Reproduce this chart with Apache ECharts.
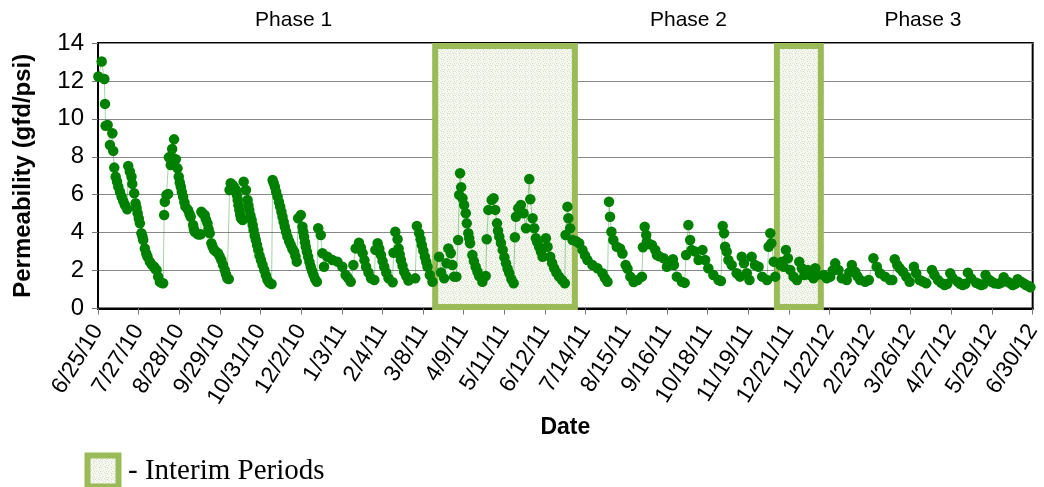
<!DOCTYPE html>
<html>
<head>
<meta charset="utf-8">
<style>
  html, body { margin: 0; padding: 0; background: #fff; }
  #chart { width: 1044px; height: 487px; }
</style>
<script src="https://cdn.jsdelivr.net/npm/echarts@6/dist/echarts.min.js"></script>
</head>
<body>
<div id="chart"></div>
<script>
// Days are counted from 6/25/10.
const dateTicks = ['6/25/10','7/27/10','8/28/10','9/29/10','10/31/10','12/2/10','1/3/11','2/4/11',
  '3/8/11','4/9/11','5/11/11','6/12/11','7/14/11','8/15/11','9/16/11','10/18/11','11/19/11',
  '12/21/11','1/22/12','2/23/12','3/26/12','4/27/12','5/29/12','6/30/12'];
const tickStepDays = 32;

// Permeability samples: [day, gfd/psi]
const phase1 = [
  [0.3,12.23],[2.9,13.02],[5,12.1],[5.5,10.79],[6,9.63],[7.6,9.68],[9.4,8.62],[11.3,9.24],[12,8.31],
  [12.8,7.43],[13.9,6.95],[15,6.7],[16,6.42],[17.3,6.15],[18.6,5.9],[20,5.65],[21.2,5.46],[23,5.23],
  [23.8,7.52],[25.1,7.22],[26.4,6.95],[27,6.57],[28.5,6.08],[29.6,5.55],[30.4,5.3],[31.2,5.02],[32.1,4.75],
  [33,4.49],[34.2,3.97],[35,3.8],[35.6,3.61],[36.9,3.17],[38,2.9],[39,2.73],[40.8,2.47],[42.5,2.3],[44.2,2.2],
  [45,2.1],[46.1,2.03],[47.4,1.68],[48.7,1.41],[50,1.35],[51.3,1.33],
  [52.1,4.93],[52.6,5.63],[53.9,5.99],[55.2,6.04],[55.8,7.97],[57.3,7.57],[58.4,8.41],[59.1,7.92],[59.9,8.92],
  [61.3,7.87],[62.6,7.39],[63.6,6.95],[64.4,6.65],[65.2,6.42],[66,6.15],[67,5.9],[68,5.6],[68.9,5.37],
  [70.9,5.2],[72,5.0],[73,4.84],[74.9,4.4],[75.5,4.2],[76.2,4.05],[78.3,3.93],[79.5,3.9],[80.9,3.91],
  [81.4,5.1],[82.7,5.0],[84,4.93],[85,4.7],[86.2,4.49],[87,4.2],[88,3.97],[89.3,3.44],[90.3,3.25],[91.4,3.09],
  [93,3.0],[94.5,2.91],[95.8,2.75],[97.1,2.56],[98.5,2.3],[99.8,2.03],[100.8,1.8],[101.8,1.59],[103,1.55],
  [103.6,6.25],[104.5,6.6],[106,6.51],[107.3,6.4],[108.6,6.25],[109.3,6.0],[110,5.72],[110.6,5.45],
  [111.3,5.2],[112,4.95],[112.6,4.76],[113.9,4.67],
  [114.7,6.69],[116.5,6.25],[117.8,5.72],[118.4,5.45],[119.1,5.2],[120,4.9],[121,4.67],[121.8,4.4],
  [122.5,4.14],[123.4,3.85],[124.3,3.61],[125.2,3.35],[126.2,3.09],[127.2,2.8],[128.3,2.56],[129.6,2.3],
  [130.9,2.03],[132.2,1.75],[133.5,1.5],[135,1.35],[136.7,1.29],
  [137.5,6.78],[138.4,6.6],[139.3,6.42],[140.3,6.15],[141.4,5.9],[142.5,5.62],[143.5,5.37],[144.4,5.1],
  [145.3,4.84],[146.2,4.57],[147.1,4.31],[148.1,4.05],[149.2,3.79],[150.5,3.55],[151.8,3.35],[153,3.15],
  [154.5,3.0],[155.5,2.75],[156.5,2.47],
  [157.6,4.76],[159.7,4.93],[161,4.31],[161.6,4.05],[162.3,3.79],[163,3.5],[163.6,3.26],[164.5,3.0],
  [165.5,2.73],[166.5,2.45],[167.5,2.2],[168.6,1.98],[169.7,1.77],[171,1.55],[172.3,1.41],
  [173.4,4.23],[175.4,3.88],[176.7,2.91],[178,2.2],[180.7,2.73],[184.6,2.56],[188.5,2.47],[192.4,2.2],
  [195,1.77],[197,1.6],[199,1.41],
  [201.1,2.29],[202.9,3.17],[205.5,3.47],[207,3.2],[208.4,2.91],[209.8,2.55],[211.1,2.2],[213,1.9],[215,1.59],[217.6,1.5],
  [218.4,3.09],[220.2,3.44],[221.5,3.15],[222.8,2.82],[224.1,2.5],[225.4,2.2],[227,1.9],[228.8,1.59],[232,1.38],
  [232.7,2.94],[234.1,4.05],[235.9,3.65],[236.7,3.17],[237.6,2.85],[238.5,2.56],[239.8,2.25],[241.1,1.94],
  [242.8,1.7],[244.5,1.47],[249.8,1.59],
  [251.1,4.35],[252.9,3.97],[254,3.65],[255,3.35],[256.2,3.05],[257.4,2.73],[258.5,2.45],[259.5,2.2],
  [261.3,1.77],[263.4,1.41]
];
const interim1 = [
  [268.6,2.73],[270.2,1.9],[272.6,1.59],[274.4,2.38],[275.9,3.17],[277.8,2.91],[279.1,2.29],[280.4,1.68],
  [282.2,1.68],[283.6,3.61],[284.4,5.99],[285.1,7.13],[286,6.4],[287,5.81],[288.3,5.46],[289.6,5.02],[290.4,4.49],
  [291.6,3.97],[292.3,3.7],[293,3.44],[294.8,2.82],[296,2.5],[297.4,2.2],[298.8,1.95],[300.1,1.71],[302.7,1.41],[305.3,1.71],
  [306.1,3.65],[307.4,5.2],[310,5.72],[311.5,5.81],[312.8,5.2],[314.2,4.49],[315,4.1],[316,3.79],[317.3,3.45],
  [318.7,3.09],[320,2.7],[321.3,2.38],[322.6,2.1],[323.9,1.86],[325.5,1.55],[327.3,1.33],
  [328.3,3.76],[329.1,4.84],[330.9,5.28],[333,5.46],[335.1,5.02],[337,4.23],[339.6,6.83],[340.4,5.76],
  [342.2,4.76],[343.5,4.23],[344.8,3.7],[345.9,3.5],[347.4,3.26],[348.8,3.0],[350.1,2.73],[352.7,3.7],[354,3.26],
  [356.1,2.73],[357.6,2.4],[359.2,2.12],[361,1.9],[363.1,1.68],[365.4,1.5],[367.6,1.33],
  [368.2,3.88],[369.7,5.37],[370.4,4.76],[371.8,4.23],[373.7,3.61]
];
const phase2 = [
  [376.5,3.55],[378.9,3.44],[381.5,3.09],[383.5,2.8],[385.4,2.56],[389.3,2.29],[393.3,2.12],[397.2,1.86],[399.2,1.6],[401.2,1.41],
  [402.4,5.63],[403.2,4.84],[404.3,4.05],[405.8,3.61],[408.5,3.26],[411.1,3.17],[413,2.9],[415.5,2.29],
  [417,2.1],[419.2,1.68],[421.8,1.4],[425,1.5],[428.3,1.68],
  [429.1,3.23],[430.5,4.31],[431.7,3.88],[432.2,3.52],[434,3.4],[436.2,3.35],[438.8,3.09],[440.1,2.82],
  [442,2.75],[445.4,2.65],[448,2.2],[450,2.4],[452.7,2.6],[453.5,2.29],[455.8,1.68],[459.8,1.41],[462,1.35],
  [463.1,2.82],[464.9,4.4],[466.3,3.61],[467.5,3.09],[470.2,3.0],[472.9,2.56],[476,3.09],[478.1,2.56],
  [480.6,2.12],[484.6,1.77],[488.6,1.5],[490.5,1.45],
  [491.9,4.35],[493,3.97],[493.8,3.26],[495.1,3.0],[496.4,2.56],[499,2.29],[502.9,1.86],[505.6,1.68],
  [506.9,2.73],[508.7,2.38],[510.9,1.86],[513,1.5],[514.7,2.73],[517.4,2.29],[520.2,2.2],[523,1.68],
  [526.8,1.5],[528.1,3.26],[529.4,3.97],[530.2,3.44],[532.1,2.47],[533.3,1.68]
];
const interim2 = [
  [537.3,2.29],[538.6,2.47],[539.9,2.2],[541.7,3.09],[543.3,2.65],[545.1,2.03],[547.7,1.68],[550.4,1.5],
  [552.2,2.47],[554.3,2.12],[556.3,1.77],[559,2.03],[560.8,1.77],[563.4,1.59],[564.8,2.12],[566.1,1.77]
];
const phase3 = [
  [571.3,1.77],[573.9,1.59],[576.6,1.68],[578.5,2.0],[580.5,2.38],[583.1,2.03],[585.7,1.59],[589.6,1.5],
  [591.6,1.9],[593.6,2.29],[596.2,1.94],[598,1.7],[600.1,1.5],[604.1,1.41],[607,1.5],[610.6,2.65],[613.3,2.2],
  [615.8,1.86],[619.8,1.68],[623.7,1.5],[625.5,1.5],
  [627.4,2.6],[629.4,2.29],[631.3,2.12],[633.9,1.94],[636.5,1.68],[639.1,1.41],[642.5,2.2],[644.3,1.86],
  [647,1.5],[649.5,1.42],[652.2,1.33],[656.7,2.03],[658.7,1.77],[661.4,1.5],[664,1.35],[666.6,1.24],[668.8,1.3],
  [671.1,1.86],[673.2,1.59],[677.1,1.41],[679,1.3],[681,1.24],[683,1.3],[685,1.89],[687.6,1.59],[691.5,1.36],
  [693.5,1.3],[695.4,1.24],[697.2,1.28],[698.9,1.77],[702,1.5],[704,1.4],[706,1.33],[709,1.3],[711,1.35],
  [713.2,1.65],[716.4,1.41],[718.4,1.33],[720.3,1.24],[722.3,1.3],[724.2,1.54],[726.8,1.41],[728.8,1.33],
  [730.8,1.24],[732.5,1.2],[734.2,1.12]
];

// Interim periods as [startDay, endDay]
const interimPeriods = [[265.5, 375.5], [534.6, 569.2]];
const phaseLabels = ['Phase 1', 'Phase 2', 'Phase 3'];
const phaseLabelDays = [154, 465, 649.6];

const series = phase1.concat(interim1, phase2, interim2, phase3);

// Speckled fill for the interim boxes
function speckle() {
  const c = document.createElement('canvas');
  c.width = 6; c.height = 6;
  const g = c.getContext('2d');
  g.fillStyle = '#f5f7f1';
  g.fillRect(0, 0, 6, 6);
  const dots = [[0,0],[3,1],[1,2],[4,3],[2,4],[5,5],[0,3],[3,5]];
  dots.forEach((p, i) => {
    g.fillStyle = i % 2 ? '#d3dec2' : '#dfe6d4';
    g.fillRect(p[0], p[1], 1, 1);
  });
  return c;
}
const speckleCanvas = speckle();

const chart = echarts.init(document.getElementById('chart'), null, { renderer: 'canvas' });

const option = {
  animation: false,
  textStyle: { fontFamily: 'Liberation Sans, Arial, sans-serif' },
  grid: {
    left: 98, right: 9, top: 43, bottom: 178.5,
    show: true, borderColor: '#000', borderWidth: 2, backgroundColor: 'transparent'
  },
  xAxis: {
    type: 'value', min: 0, max: tickStepDays * (dateTicks.length - 1), interval: tickStepDays,
    name: 'Date', nameLocation: 'middle', nameGap: 106,
    nameTextStyle: { fontSize: 23, fontWeight: 'bold', color: '#000' },
    axisLine: { show: true, lineStyle: { color: '#000', width: 2 } },
    axisTick: { show: true, length: 6, lineStyle: { color: '#777', width: 1 } },
    splitLine: { show: false },
    axisLabel: {
      rotate: 58, fontSize: 23, color: '#000', margin: 18,
      formatter: v => dateTicks[Math.round(v / tickStepDays)] || ''
    }
  },
  yAxis: {
    type: 'value', min: 0, max: 14, interval: 2,
    name: 'Permeability (gfd/psi)', nameLocation: 'middle', nameGap: 63, nameRotate: 90,
    nameTextStyle: { fontSize: 24, fontWeight: 'bold', color: '#000' },
    axisLine: { show: true, lineStyle: { color: '#000', width: 2 } },
    axisTick: { show: true, length: 6, lineStyle: { color: '#777', width: 1 } },
    splitLine: { show: true, lineStyle: { color: '#888', width: 1 } },
    axisLabel: { fontSize: 24, color: '#000', margin: 14 }
  },
  series: [{
    type: 'line',
    data: series,
    symbol: 'circle',
    symbolSize: 10.5,
    showSymbol: true,
    itemStyle: { color: '#008000' },
    lineStyle: { color: 'rgba(0,128,0,0.35)', width: 1 },
    markArea: {
      silent: true,
      itemStyle: {
        color: { image: speckleCanvas, repeat: 'repeat' },
        borderColor: '#9bbb59', borderWidth: 6
      },
      data: interimPeriods.map(p => [{ xAxis: p[0], yAxis: 13.84 }, { xAxis: p[1], yAxis: 0.08 }])
    }
  }]
};
chart.setOption(option);

// Phase titles above the plot and the key below it
const graphics = phaseLabels.map((t, i) => ({
  type: 'text',
  x: chart.convertToPixel({ xAxisIndex: 0 }, phaseLabelDays[i]),
  y: 20,
  style: {
    text: t, fontSize: 21, fill: '#000',
    fontFamily: 'Liberation Sans, Arial, sans-serif',
    align: 'center', verticalAlign: 'middle'
  }
}));
graphics.push({
  type: 'rect',
  shape: { x: 87.5, y: 455.5, width: 31, height: 31 },
  style: { fill: { image: speckleCanvas, repeat: 'repeat' }, stroke: '#9bbb59', lineWidth: 6 }
});
graphics.push({
  type: 'text', x: 128, y: 471,
  style: {
    text: '- Interim Periods', fontSize: 29, fill: '#000',
    fontFamily: 'Liberation Serif, Times New Roman, serif',
    align: 'left', verticalAlign: 'middle'
  }
});
chart.setOption({ graphic: graphics });
</script>
</body>
</html>
